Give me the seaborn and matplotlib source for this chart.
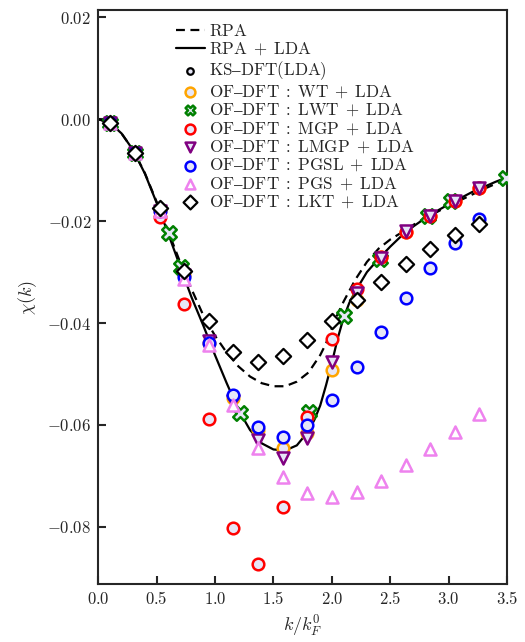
import numpy as np
import pandas as pd
import matplotlib
matplotlib.use("Agg")
import matplotlib.pyplot as plt
import seaborn as sns
from matplotlib.ticker import FuncFormatter, FixedLocator

# ---------------- data ----------------
k_rpa = [0.0, 0.1, 0.2, 0.3, 0.4, 0.5, 0.6, 0.7, 0.8, 0.9, 1.0, 1.1, 1.2, 1.3, 1.4, 1.5,
         1.6, 1.7, 1.8, 1.9, 1.95, 2.0, 2.05, 2.1, 2.2, 2.3, 2.4, 2.5, 2.6, 2.7, 2.8, 2.9,
         3.0, 3.1, 3.2, 3.3, 3.4, 3.5]
chi_rpa = [0.0, -0.0007, -0.0028, -0.0061, -0.0106, -0.0162, -0.0220, -0.0280, -0.0334,
           -0.0385, -0.0425, -0.0458, -0.0485, -0.0505, -0.0518, -0.0524, -0.0524, -0.0515,
           -0.0497, -0.0463, -0.0440, -0.0410, -0.0382, -0.0358, -0.0315, -0.0280, -0.0254,
           -0.0236, -0.0222, -0.0207, -0.0194, -0.0182, -0.0170, -0.0159, -0.0148, -0.0137,
           -0.0127, -0.0117]

k_rpalda = [0.0, 0.1, 0.2, 0.3, 0.4, 0.5, 0.6, 0.7, 0.8, 0.9, 1.0, 1.1, 1.2, 1.3, 1.4, 1.5,
            1.6, 1.7, 1.8, 1.85, 1.9, 1.95, 2.0, 2.05, 2.1, 2.15, 2.2, 2.3, 2.4, 2.5, 2.6,
            2.7, 2.8, 2.9, 3.0, 3.1, 3.2, 3.3, 3.4, 3.5]
chi_rpalda = [0.0, -0.0007, -0.0028, -0.0061, -0.0107, -0.0164, -0.0225, -0.0288, -0.0350,
              -0.0405, -0.0463, -0.0518, -0.0570, -0.0610, -0.0636, -0.0648, -0.0650,
              -0.0640, -0.0612, -0.0590, -0.0562, -0.0522, -0.0478, -0.0430, -0.0390,
              -0.0360, -0.0338, -0.0300, -0.0274, -0.0250, -0.0228, -0.0210, -0.0194,
              -0.0180, -0.0167, -0.0155, -0.0143, -0.0133, -0.0123, -0.0114]

k_grid = [0.105, 0.316, 0.526, 0.737, 0.947, 1.158, 1.368, 1.579, 1.789, 2.0, 2.211,
          2.421, 2.632, 2.842, 3.053, 3.263]

k_ks = [0.105, 0.316, 0.61, 0.71, 1.21, 1.80, 2.10, 2.41, 2.82, 3.02, 3.49]
chi_ks = [-0.0008, -0.0067, -0.0224, -0.0290, -0.0577, -0.0614, -0.0386, -0.0275,
          -0.0190, -0.0160, -0.0116]

k_lwt = [0.105, 0.316, 0.61, 0.71, 1.21, 1.80, 2.10, 2.41, 2.82, 3.02, 3.49]
chi_lwt = [-0.0008, -0.0067, -0.0224, -0.0290, -0.0577, -0.0575, -0.0386, -0.0275,
           -0.0190, -0.0160, -0.0116]

chi_wt = [-0.0008, -0.0067, -0.0180, -0.0305, -0.0439, -0.0548, -0.0610, -0.0645,
          -0.0615, -0.0492, -0.0355, -0.0270, -0.0222, -0.0190, -0.0160, -0.0135]
chi_mgp = [-0.0008, -0.0067, -0.0192, -0.0363, -0.0588, -0.0802, -0.0873, -0.0761,
           -0.0584, -0.0431, -0.0333, -0.0270, -0.0222, -0.0190, -0.0160, -0.0135]
chi_lmgp = [-0.0008, -0.0067, -0.0180, -0.0305, -0.0436, -0.0552, -0.0630, -0.0665,
            -0.0625, -0.0476, -0.0341, -0.0272, -0.0220, -0.0190, -0.0160, -0.0135]
chi_pgsl = [-0.0008, -0.0067, -0.0180, -0.0310, -0.0439, -0.0541, -0.0604, -0.0623,
            -0.0600, -0.0551, -0.0486, -0.0417, -0.0351, -0.0292, -0.0243, -0.0196]
chi_pgs = [-0.0008, -0.0067, -0.0180, -0.0314, -0.0443, -0.0560, -0.0645, -0.0702,
           -0.0733, -0.0741, -0.0731, -0.0709, -0.0678, -0.0647, -0.0613, -0.0578]
chi_lkt = [-0.0008, -0.0067, -0.0175, -0.0298, -0.0396, -0.0457, -0.0476, -0.0465,
           -0.0433, -0.0396, -0.0355, -0.0320, -0.0285, -0.0255, -0.0228, -0.0206]

OF = r"\mathrm{OF}\text{–}\mathrm{DFT}\;:\;"
PL = r"\;+\;\mathrm{LDA}$"
labels = [r"$\mathrm{RPA}$", r"$\mathrm{RPA}" + PL,
          r"$\mathrm{KS}\text{–}\mathrm{DFT(LDA)}$",
          "$" + OF + r"\mathrm{WT}" + PL,
          "$" + OF + r"\mathrm{LWT}" + PL,
          "$" + OF + r"\mathrm{MGP}" + PL,
          "$" + OF + r"\mathrm{LMGP}" + PL,
          "$" + OF + r"\mathrm{PGSL}" + PL,
          "$" + OF + r"\mathrm{PGS}" + PL,
          "$" + OF + r"\mathrm{LKT}" + PL]

xticks = [0.0, 0.5, 1.0, 1.5, 2.0, 2.5, 3.0, 3.5]
yticks = [0.02, 0.0, -0.02, -0.04, -0.06, -0.08]

# ---------------- style ----------------
sns.set_theme(style="ticks")
plt.rcParams["font.family"] = ["DejaVu Serif"]
plt.rcParams["mathtext.fontset"] = "cm"
plt.rcParams["axes.linewidth"] = 1.5

fig = plt.figure(figsize=(5.25, 6.42), dpi=100)
ax = fig.add_axes([0.187, 0.0903, 0.779, 0.894])

sns.lineplot(x=k_rpa, y=chi_rpa, ax=ax, color="black", lw=1.6, linestyle=(0, (4, 2.5)),
             label=labels[0], sort=False)
sns.lineplot(x=k_rpalda, y=chi_rpalda, ax=ax, color="black", lw=1.6, label=labels[1],
             sort=False)

light = "#e6e6f7"
sns.scatterplot(x=k_ks, y=chi_ks, ax=ax, marker="o", s=22, facecolor=light,
                edgecolor="black", linewidth=1.6, label=labels[2], zorder=3)
sns.scatterplot(x=k_grid, y=chi_wt, ax=ax, marker="o", s=70, facecolor=light,
                edgecolor="orange", linewidth=1.8, label=labels[3], zorder=3)
sns.scatterplot(x=k_lwt, y=chi_lwt, ax=ax, marker="X", s=110, facecolor=light,
                edgecolor="green", linewidth=1.8, label=labels[4], zorder=3)
sns.scatterplot(x=k_grid, y=chi_mgp, ax=ax, marker="o", s=70, facecolor=light,
                edgecolor="red", linewidth=1.8, label=labels[5], zorder=3)
sns.scatterplot(x=k_grid, y=chi_lmgp, ax=ax, marker="v", s=75, facecolor=light,
                edgecolor="purple", linewidth=1.8, label=labels[6], zorder=3)
sns.scatterplot(x=k_grid, y=chi_pgsl, ax=ax, marker="o", s=70, facecolor=light,
                edgecolor="blue", linewidth=1.8, label=labels[7], zorder=3)
sns.scatterplot(x=k_grid, y=chi_pgs, ax=ax, marker="^", s=75, facecolor="white",
                edgecolor="violet", linewidth=1.8, label=labels[8], zorder=3)
sns.scatterplot(x=k_grid, y=chi_lkt, ax=ax, marker="D", s=60, facecolor="white",
                edgecolor="black", linewidth=1.6, label=labels[9], zorder=3)

ax.set_xlim(0.0, 3.5)
ax.set_ylim(-0.0912, 0.0214)
ax.xaxis.set_major_locator(FixedLocator(xticks))
ax.yaxis.set_major_locator(FixedLocator(yticks))
ax.xaxis.set_major_formatter(FuncFormatter(lambda v, p: r"$%.1f$" % v))
ax.yaxis.set_major_formatter(FuncFormatter(lambda v, p: r"$%.2f$" % v))
ax.tick_params(direction="in", length=6, width=1.5, labelsize=12, top=False, right=False,
               pad=5)
for s in ax.spines.values():
    s.set_visible(True)
    s.set_linewidth(1.5)

ax.set_xlabel(r"$k/k_F^0$", fontsize=13, labelpad=4)
ax.set_ylabel(r"$\chi(k)$", fontsize=13, labelpad=6)

leg = ax.legend(loc="upper left", bbox_to_anchor=(0.19, 0.978), frameon=False,
                fontsize=12.3, labelspacing=0.08, handlelength=1.7, handletextpad=0.25,
                borderaxespad=0.0, borderpad=0.0)
for h in leg.legend_handles:
    if hasattr(h, "set_sizes"):
        sz = h.get_sizes()
        if len(sz) and sz[0] > 30:
            h.set_sizes([50])

fig.savefig("out.png", dpi=100)
